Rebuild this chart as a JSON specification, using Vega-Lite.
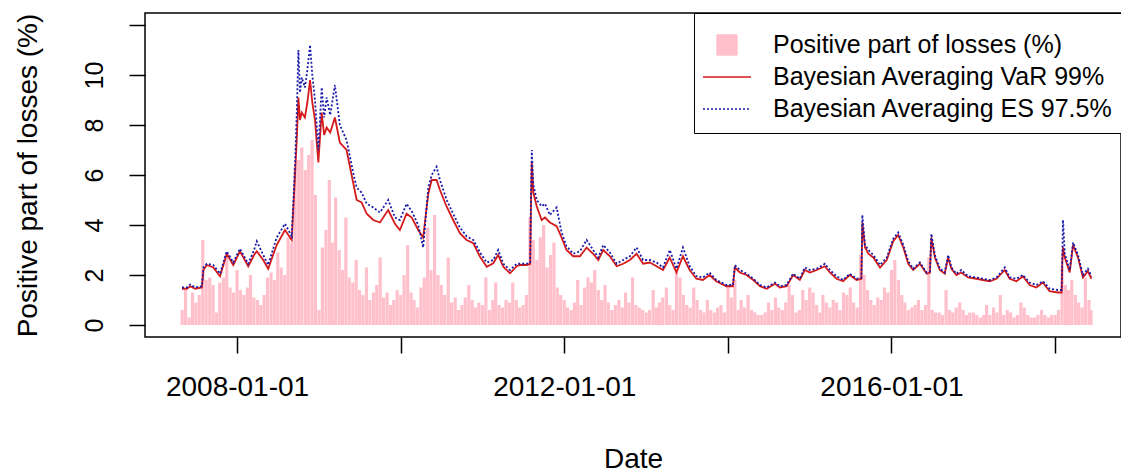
{
  "$schema": "https://vega.github.io/schema/vega-lite/v6.json",
  "width": 976,
  "height": 324,
  "autosize": "none",
  "padding": {"left": 145, "top": 13, "right": 0, "bottom": 135},
  "background": "white",
  "config": {
    "view": {"stroke": "black", "strokeWidth": 1.5},
    "font": "Liberation Sans",
    "axis": {"grid": false, "domain": false, "tickColor": "black", "tickWidth": 1.5, "labelColor": "black", "titleColor": "black", "labelFont": "Liberation Sans", "titleFont": "Liberation Sans", "titleFontWeight": "normal"}
  },
  "datasets": {
    "loss": [
      {"date":"2007-05-01","loss":0.6},{"date":"2007-05-16","loss":1.4},{"date":"2007-06-01","loss":0.3},{"date":"2007-06-16","loss":1.3},{"date":"2007-07-01","loss":0.9},{"date":"2007-07-16","loss":1.2},{"date":"2007-08-01","loss":3.4},{"date":"2007-08-16","loss":1.8},{"date":"2007-09-01","loss":1.9},{"date":"2007-09-16","loss":1.6},{"date":"2007-10-01","loss":0.5},{"date":"2007-10-16","loss":1.7},{"date":"2007-11-01","loss":1.9},{"date":"2007-11-16","loss":2.8},{"date":"2007-12-01","loss":1.5},{"date":"2007-12-16","loss":1.3},
      {"date":"2008-01-01","loss":2.2},{"date":"2008-01-16","loss":1.4},{"date":"2008-02-01","loss":1.2},{"date":"2008-02-16","loss":1.5},{"date":"2008-03-01","loss":2.0},{"date":"2008-03-16","loss":1.1},{"date":"2008-04-01","loss":1.0},{"date":"2008-04-16","loss":0.8},{"date":"2008-05-01","loss":1.2},{"date":"2008-05-16","loss":1.9},{"date":"2008-06-01","loss":2.1},{"date":"2008-06-16","loss":1.8},{"date":"2008-07-01","loss":2.9},{"date":"2008-07-16","loss":2.3},{"date":"2008-08-01","loss":2.0},{"date":"2008-08-16","loss":3.5},{"date":"2008-09-01","loss":3.3},{"date":"2008-09-16","loss":6.3},{"date":"2008-10-01","loss":6.6},{"date":"2008-10-16","loss":7.1},{"date":"2008-11-01","loss":6.2},{"date":"2008-11-16","loss":6.8},{"date":"2008-12-01","loss":7.4},{"date":"2008-12-16","loss":5.2},
      {"date":"2009-01-01","loss":0.6},{"date":"2009-01-16","loss":3.1},{"date":"2009-02-01","loss":3.8},{"date":"2009-02-16","loss":5.8},{"date":"2009-03-01","loss":3.3},{"date":"2009-03-16","loss":5.1},{"date":"2009-04-01","loss":3.0},{"date":"2009-04-16","loss":2.2},{"date":"2009-05-01","loss":4.3},{"date":"2009-05-16","loss":1.9},{"date":"2009-06-01","loss":1.7},{"date":"2009-06-16","loss":2.6},{"date":"2009-07-01","loss":1.4},{"date":"2009-07-16","loss":1.2},{"date":"2009-08-01","loss":2.3},{"date":"2009-08-16","loss":1.0},{"date":"2009-09-01","loss":1.3},{"date":"2009-09-16","loss":1.6},{"date":"2009-10-01","loss":2.7},{"date":"2009-10-16","loss":1.1},{"date":"2009-11-01","loss":1.3},{"date":"2009-11-16","loss":0.8},{"date":"2009-12-01","loss":1.0},{"date":"2009-12-16","loss":1.4},
      {"date":"2010-01-01","loss":1.2},{"date":"2010-01-16","loss":2.0},{"date":"2010-02-01","loss":3.2},{"date":"2010-02-16","loss":1.3},{"date":"2010-03-01","loss":1.0},{"date":"2010-03-16","loss":0.7},{"date":"2010-04-01","loss":1.5},{"date":"2010-04-16","loss":1.9},{"date":"2010-05-01","loss":3.9},{"date":"2010-05-16","loss":2.2},{"date":"2010-06-01","loss":4.4},{"date":"2010-06-16","loss":2.0},{"date":"2010-07-01","loss":1.6},{"date":"2010-07-16","loss":1.2},{"date":"2010-08-01","loss":2.7},{"date":"2010-08-16","loss":0.9},{"date":"2010-09-01","loss":1.1},{"date":"2010-09-16","loss":0.6},{"date":"2010-10-01","loss":0.8},{"date":"2010-10-16","loss":1.1},{"date":"2010-11-01","loss":1.6},{"date":"2010-11-16","loss":1.0},{"date":"2010-12-01","loss":0.7},{"date":"2010-12-16","loss":0.9},
      {"date":"2011-01-01","loss":0.8},{"date":"2011-01-16","loss":1.9},{"date":"2011-02-01","loss":0.6},{"date":"2011-02-16","loss":1.0},{"date":"2011-03-01","loss":1.7},{"date":"2011-03-16","loss":0.8},{"date":"2011-04-01","loss":0.7},{"date":"2011-04-16","loss":1.0},{"date":"2011-05-01","loss":0.9},{"date":"2011-05-16","loss":1.7},{"date":"2011-06-01","loss":1.0},{"date":"2011-06-16","loss":0.7},{"date":"2011-07-01","loss":0.8},{"date":"2011-07-16","loss":1.2},{"date":"2011-08-01","loss":4.3},{"date":"2011-08-16","loss":3.4},{"date":"2011-09-01","loss":2.6},{"date":"2011-09-16","loss":3.5},{"date":"2011-10-01","loss":4.0},{"date":"2011-10-16","loss":2.3},{"date":"2011-11-01","loss":2.8},{"date":"2011-11-16","loss":3.3},{"date":"2011-12-01","loss":1.5},{"date":"2011-12-16","loss":1.2},
      {"date":"2012-01-01","loss":1.0},{"date":"2012-01-16","loss":0.7},{"date":"2012-02-01","loss":0.6},{"date":"2012-02-16","loss":0.9},{"date":"2012-03-01","loss":1.8},{"date":"2012-03-16","loss":0.8},{"date":"2012-04-01","loss":1.5},{"date":"2012-04-16","loss":1.9},{"date":"2012-05-01","loss":1.7},{"date":"2012-05-16","loss":2.2},{"date":"2012-06-01","loss":1.4},{"date":"2012-06-16","loss":1.0},{"date":"2012-07-01","loss":1.6},{"date":"2012-07-16","loss":0.9},{"date":"2012-08-01","loss":0.6},{"date":"2012-08-16","loss":0.8},{"date":"2012-09-01","loss":1.0},{"date":"2012-09-16","loss":0.7},{"date":"2012-10-01","loss":1.3},{"date":"2012-10-16","loss":0.9},{"date":"2012-11-01","loss":1.9},{"date":"2012-11-16","loss":0.8},{"date":"2012-12-01","loss":0.7},{"date":"2012-12-16","loss":0.6},
      {"date":"2013-01-01","loss":0.5},{"date":"2013-01-16","loss":0.6},{"date":"2013-02-01","loss":1.4},{"date":"2013-02-16","loss":0.7},{"date":"2013-03-01","loss":0.9},{"date":"2013-03-16","loss":1.1},{"date":"2013-04-01","loss":1.5},{"date":"2013-04-16","loss":0.8},{"date":"2013-05-01","loss":0.6},{"date":"2013-05-16","loss":2.3},{"date":"2013-06-01","loss":1.9},{"date":"2013-06-16","loss":1.2},{"date":"2013-07-01","loss":0.8},{"date":"2013-07-16","loss":0.7},{"date":"2013-08-01","loss":1.5},{"date":"2013-08-16","loss":1.0},{"date":"2013-09-01","loss":0.6},{"date":"2013-09-16","loss":0.5},{"date":"2013-10-01","loss":1.0},{"date":"2013-10-16","loss":0.6},{"date":"2013-11-01","loss":0.5},{"date":"2013-11-16","loss":0.7},{"date":"2013-12-01","loss":0.8},{"date":"2013-12-16","loss":0.5},
      {"date":"2014-01-01","loss":1.6},{"date":"2014-01-16","loss":1.1},{"date":"2014-02-01","loss":1.8},{"date":"2014-02-16","loss":0.6},{"date":"2014-03-01","loss":1.0},{"date":"2014-03-16","loss":0.7},{"date":"2014-04-01","loss":1.2},{"date":"2014-04-16","loss":0.6},{"date":"2014-05-01","loss":0.5},{"date":"2014-05-16","loss":0.4},{"date":"2014-06-01","loss":0.4},{"date":"2014-06-16","loss":0.5},{"date":"2014-07-01","loss":0.9},{"date":"2014-07-16","loss":0.6},{"date":"2014-08-01","loss":1.1},{"date":"2014-08-16","loss":0.7},{"date":"2014-09-01","loss":0.6},{"date":"2014-09-16","loss":0.9},{"date":"2014-10-01","loss":1.6},{"date":"2014-10-16","loss":1.2},{"date":"2014-11-01","loss":0.5},{"date":"2014-11-16","loss":0.6},{"date":"2014-12-01","loss":1.4},{"date":"2014-12-16","loss":1.0},
      {"date":"2015-01-01","loss":1.5},{"date":"2015-01-16","loss":1.3},{"date":"2015-02-01","loss":0.8},{"date":"2015-02-16","loss":0.5},{"date":"2015-03-01","loss":1.2},{"date":"2015-03-16","loss":0.9},{"date":"2015-04-01","loss":0.7},{"date":"2015-04-16","loss":1.0},{"date":"2015-05-01","loss":0.9},{"date":"2015-05-16","loss":0.6},{"date":"2015-06-01","loss":1.3},{"date":"2015-06-16","loss":1.2},{"date":"2015-07-01","loss":1.5},{"date":"2015-07-16","loss":0.9},{"date":"2015-08-01","loss":0.7},{"date":"2015-08-16","loss":2.8},{"date":"2015-09-01","loss":2.0},{"date":"2015-09-16","loss":1.4},{"date":"2015-10-01","loss":1.0},{"date":"2015-10-16","loss":0.8},{"date":"2015-11-01","loss":1.1},{"date":"2015-11-16","loss":1.0},{"date":"2015-12-01","loss":1.5},{"date":"2015-12-16","loss":1.3},
      {"date":"2016-01-01","loss":2.2},{"date":"2016-01-16","loss":2.6},{"date":"2016-02-01","loss":1.8},{"date":"2016-02-16","loss":1.2},{"date":"2016-03-01","loss":0.9},{"date":"2016-03-16","loss":0.6},{"date":"2016-04-01","loss":0.7},{"date":"2016-04-16","loss":0.8},{"date":"2016-05-01","loss":1.0},{"date":"2016-05-16","loss":0.6},{"date":"2016-06-01","loss":0.8},{"date":"2016-06-16","loss":2.7},{"date":"2016-07-01","loss":0.6},{"date":"2016-07-16","loss":0.5},{"date":"2016-08-01","loss":0.5},{"date":"2016-08-16","loss":0.4},{"date":"2016-09-01","loss":1.4},{"date":"2016-09-16","loss":0.6},{"date":"2016-10-01","loss":0.5},{"date":"2016-10-16","loss":0.7},{"date":"2016-11-01","loss":0.9},{"date":"2016-11-16","loss":0.6},{"date":"2016-12-01","loss":0.4},{"date":"2016-12-16","loss":0.5},
      {"date":"2017-01-01","loss":0.5},{"date":"2017-01-16","loss":0.4},{"date":"2017-02-01","loss":0.3},{"date":"2017-02-16","loss":0.4},{"date":"2017-03-01","loss":0.8},{"date":"2017-03-16","loss":0.4},{"date":"2017-04-01","loss":0.7},{"date":"2017-04-16","loss":0.5},{"date":"2017-05-01","loss":1.2},{"date":"2017-05-16","loss":0.4},{"date":"2017-06-01","loss":0.6},{"date":"2017-06-16","loss":0.5},{"date":"2017-07-01","loss":0.3},{"date":"2017-07-16","loss":0.4},{"date":"2017-08-01","loss":0.9},{"date":"2017-08-16","loss":0.7},{"date":"2017-09-01","loss":0.4},{"date":"2017-09-16","loss":0.3},{"date":"2017-10-01","loss":0.3},{"date":"2017-10-16","loss":0.4},{"date":"2017-11-01","loss":0.6},{"date":"2017-11-16","loss":0.4},{"date":"2017-12-01","loss":0.3},{"date":"2017-12-16","loss":0.4},
      {"date":"2018-01-01","loss":0.4},{"date":"2018-01-16","loss":0.6},{"date":"2018-02-01","loss":2.3},{"date":"2018-02-16","loss":1.6},{"date":"2018-03-01","loss":1.4},{"date":"2018-03-16","loss":1.8},{"date":"2018-04-01","loss":1.2},{"date":"2018-04-16","loss":0.9},{"date":"2018-05-01","loss":0.7},{"date":"2018-05-16","loss":1.9},{"date":"2018-06-01","loss":1.0},{"date":"2018-06-10","loss":0.6}
    ],
    "risk": [
      {"date":"2007-04-30","var":1.45,"es":1.5},{"date":"2007-05-22","var":1.45,"es":1.5},{"date":"2007-06-06","var":1.55,"es":1.62},{"date":"2007-06-28","var":1.45,"es":1.5},{"date":"2007-07-28","var":1.5,"es":1.55},{"date":"2007-08-04","var":2.2,"es":2.3},{"date":"2007-08-19","var":2.4,"es":2.45},{"date":"2007-09-17","var":2.3,"es":2.4},{"date":"2007-10-17","var":1.95,"es":2.05},{"date":"2007-11-16","var":2.85,"es":2.95},{"date":"2007-12-15","var":2.4,"es":2.5},
      {"date":"2008-01-14","var":2.95,"es":3.05},{"date":"2008-02-20","var":2.35,"es":2.45},{"date":"2008-03-17","var":2.8,"es":3.0},{"date":"2008-03-29","var":2.95,"es":3.35},{"date":"2008-04-27","var":2.6,"es":2.8},{"date":"2008-05-19","var":2.25,"es":2.4},{"date":"2008-06-26","var":3.2,"es":3.5},{"date":"2008-08-02","var":3.8,"es":4.05},{"date":"2008-09-01","var":3.4,"es":3.55},{"date":"2008-09-16","var":6.0,"es":6.4},{"date":"2008-09-24","var":7.5,"es":8.6},{"date":"2008-10-01","var":9.1,"es":11.0},{"date":"2008-10-08","var":8.2,"es":9.3},{"date":"2008-10-16","var":8.5,"es":9.9},{"date":"2008-10-30","var":8.3,"es":9.5},{"date":"2008-11-10","var":8.9,"es":10.2},{"date":"2008-11-22","var":9.8,"es":11.2},{"date":"2008-12-02","var":8.9,"es":10.0},{"date":"2008-12-14","var":8.2,"es":9.0},{"date":"2008-12-29","var":6.5,"es":7.0},
      {"date":"2009-01-13","var":8.5,"es":9.5},{"date":"2009-01-24","var":7.6,"es":8.3},{"date":"2009-02-04","var":7.9,"es":9.1},{"date":"2009-02-20","var":7.7,"es":8.4},{"date":"2009-03-13","var":8.3,"es":9.6},{"date":"2009-04-04","var":7.3,"es":8.0},{"date":"2009-05-04","var":7.0,"es":7.4},{"date":"2009-06-03","var":5.67,"es":6.07},{"date":"2009-06-18","var":5.0,"es":5.5},{"date":"2009-07-10","var":4.9,"es":5.3},{"date":"2009-08-02","var":4.45,"es":4.85},{"date":"2009-08-31","var":4.2,"es":4.7},{"date":"2009-09-30","var":4.1,"es":4.5},{"date":"2009-11-06","var":4.6,"es":5.0},{"date":"2009-12-06","var":4.05,"es":4.3},{"date":"2009-12-28","var":3.8,"es":4.2},
      {"date":"2010-01-27","var":4.45,"es":4.85},{"date":"2010-02-19","var":4.3,"es":4.55},{"date":"2010-03-20","var":3.8,"es":4.0},{"date":"2010-04-11","var":3.5,"es":3.1},{"date":"2010-05-04","var":5.25,"es":5.5},{"date":"2010-05-19","var":5.8,"es":6.0},{"date":"2010-06-10","var":5.8,"es":6.33},{"date":"2010-06-25","var":5.4,"es":5.8},{"date":"2010-07-25","var":4.73,"es":5.0},{"date":"2010-08-23","var":4.2,"es":4.45},{"date":"2010-09-22","var":3.67,"es":3.9},{"date":"2010-10-22","var":3.4,"es":3.55},{"date":"2010-11-21","var":3.27,"es":3.4},{"date":"2010-12-21","var":2.73,"es":2.9},
      {"date":"2011-01-20","var":2.33,"es":2.5},{"date":"2011-02-18","var":2.47,"es":2.6},{"date":"2011-03-12","var":2.8,"es":3.0},{"date":"2011-04-04","var":2.33,"es":2.45},{"date":"2011-05-04","var":2.07,"es":2.2},{"date":"2011-06-03","var":2.35,"es":2.45},{"date":"2011-06-17","var":2.4,"es":2.45},{"date":"2011-07-17","var":2.4,"es":2.45},{"date":"2011-08-02","var":2.45,"es":2.5},{"date":"2011-08-05","var":4.5,"es":4.8},{"date":"2011-08-09","var":6.5,"es":7.0},{"date":"2011-08-16","var":5.3,"es":5.6},{"date":"2011-08-31","var":4.75,"es":5.0},{"date":"2011-09-22","var":4.2,"es":4.75},{"date":"2011-10-07","var":4.3,"es":4.85},{"date":"2011-10-29","var":4.1,"es":4.4},{"date":"2011-11-28","var":3.95,"es":4.7},{"date":"2011-12-20","var":3.5,"es":3.7},
      {"date":"2012-01-11","var":3.0,"es":3.15},{"date":"2012-02-10","var":2.75,"es":2.85},{"date":"2012-03-11","var":2.75,"es":2.95},{"date":"2012-04-10","var":3.1,"es":3.4},{"date":"2012-05-09","var":2.85,"es":3.0},{"date":"2012-06-01","var":2.6,"es":2.7},{"date":"2012-06-23","var":3.0,"es":3.2},{"date":"2012-07-23","var":2.75,"es":2.9},{"date":"2012-08-22","var":2.35,"es":2.45},{"date":"2012-09-20","var":2.45,"es":2.6},{"date":"2012-10-20","var":2.6,"es":2.75},{"date":"2012-11-19","var":2.85,"es":3.1},{"date":"2012-12-18","var":2.45,"es":2.6},
      {"date":"2013-01-17","var":2.5,"es":2.6},{"date":"2013-02-16","var":2.35,"es":2.5},{"date":"2013-03-17","var":2.2,"es":2.3},{"date":"2013-04-16","var":2.7,"es":3.0},{"date":"2013-05-16","var":2.1,"es":2.25},{"date":"2013-06-14","var":2.75,"es":3.1},{"date":"2013-07-14","var":2.2,"es":2.35},{"date":"2013-08-13","var":1.85,"es":1.95},{"date":"2013-09-11","var":1.8,"es":1.9},{"date":"2013-10-11","var":2.0,"es":2.1},{"date":"2013-11-10","var":1.75,"es":1.8},{"date":"2013-12-25","var":1.55,"es":1.6},
      {"date":"2014-01-23","var":1.55,"es":1.6},{"date":"2014-02-01","var":2.3,"es":2.4},{"date":"2014-02-23","var":2.1,"es":2.2},{"date":"2014-03-25","var":2.0,"es":2.05},{"date":"2014-04-24","var":1.8,"es":1.85},{"date":"2014-05-24","var":1.55,"es":1.6},{"date":"2014-06-23","var":1.45,"es":1.5},{"date":"2014-07-30","var":1.65,"es":1.7},{"date":"2014-08-21","var":1.5,"es":1.55},{"date":"2014-09-20","var":1.55,"es":1.6},{"date":"2014-10-19","var":2.0,"es":2.05},{"date":"2014-11-18","var":1.8,"es":1.85},{"date":"2014-12-10","var":2.2,"es":2.3},
      {"date":"2015-01-02","var":2.1,"es":2.2},{"date":"2015-02-01","var":2.2,"es":2.25},{"date":"2015-03-10","var":2.35,"es":2.45},{"date":"2015-04-01","var":2.1,"es":2.2},{"date":"2015-05-01","var":1.85,"es":1.95},{"date":"2015-05-30","var":1.75,"es":1.8},{"date":"2015-06-29","var":2.0,"es":2.05},{"date":"2015-07-29","var":1.8,"es":1.85},{"date":"2015-08-20","var":1.85,"es":1.9},{"date":"2015-08-24","var":4.1,"es":4.4},{"date":"2015-09-05","var":3.1,"es":3.2},{"date":"2015-09-20","var":2.85,"es":3.0},{"date":"2015-10-12","var":2.7,"es":2.8},{"date":"2015-11-11","var":2.3,"es":2.4},{"date":"2015-12-11","var":2.6,"es":2.7},
      {"date":"2016-01-09","var":3.35,"es":3.45},{"date":"2016-01-31","var":3.6,"es":3.7},{"date":"2016-02-23","var":3.1,"es":3.2},{"date":"2016-03-16","var":2.45,"es":2.55},{"date":"2016-04-07","var":2.2,"es":2.25},{"date":"2016-05-07","var":2.45,"es":2.5},{"date":"2016-06-06","var":2.05,"es":2.1},{"date":"2016-06-21","var":2.1,"es":2.15},{"date":"2016-06-27","var":3.5,"es":3.65},{"date":"2016-07-13","var":2.7,"es":2.8},{"date":"2016-08-04","var":2.2,"es":2.25},{"date":"2016-08-26","var":2.05,"es":2.1},{"date":"2016-09-10","var":2.7,"es":2.8},{"date":"2016-09-25","var":2.25,"es":2.3},{"date":"2016-10-17","var":2.0,"es":2.05},{"date":"2016-11-08","var":2.1,"es":2.2},{"date":"2016-12-08","var":1.9,"es":1.95},
      {"date":"2017-01-14","var":1.85,"es":1.9},{"date":"2017-02-13","var":1.8,"es":1.85},{"date":"2017-03-15","var":1.75,"es":1.8},{"date":"2017-04-14","var":1.85,"es":1.9},{"date":"2017-05-21","var":2.2,"es":2.3},{"date":"2017-06-12","var":1.85,"es":1.9},{"date":"2017-07-12","var":1.75,"es":1.85},{"date":"2017-08-10","var":1.95,"es":2.0},{"date":"2017-09-09","var":1.6,"es":1.7},{"date":"2017-10-09","var":1.5,"es":1.6},{"date":"2017-11-07","var":1.7,"es":1.75},{"date":"2017-12-07","var":1.35,"es":1.45},
      {"date":"2018-01-13","var":1.3,"es":1.4},{"date":"2018-01-30","var":1.3,"es":1.4},{"date":"2018-02-02","var":2.5,"es":2.8},{"date":"2018-02-05","var":3.1,"es":4.2},{"date":"2018-02-13","var":2.7,"es":2.85},{"date":"2018-03-07","var":2.1,"es":2.2},{"date":"2018-03-22","var":3.2,"es":3.3},{"date":"2018-04-13","var":2.7,"es":2.8},{"date":"2018-05-05","var":1.9,"es":2.0},{"date":"2018-05-27","var":2.15,"es":2.25},{"date":"2018-06-12","var":1.85,"es":1.95}
    ]
  },
  "layer": [
    {
      "data": {"name": "loss"},
      "mark": {"type": "rule", "strokeWidth": 3.2},
      "encoding": {
        "x": {
          "field": "date", "type": "temporal", "title": "Date",
          "scale": {"type": "utc", "domain": [{"year": 2006, "month": 11, "date": 16, "utc": true}, {"year": 2018, "month": 10, "date": 22, "utc": true}]},
          "axis": {
            "values": [{"year": 2008, "month": 1, "date": 1, "utc": true}, {"year": 2010, "month": 1, "date": 1, "utc": true}, {"year": 2012, "month": 1, "date": 1, "utc": true}, {"year": 2014, "month": 1, "date": 1, "utc": true}, {"year": 2016, "month": 1, "date": 1, "utc": true}, {"year": 2018, "month": 1, "date": 1, "utc": true}],
            "labelExpr": "utcyear(datum.value) % 4 == 0 ? utcFormat(datum.value, '%Y-%m-%d') : ''",
            "tickSize": 16, "labelPadding": 20, "labelFontSize": 28, "titleFontSize": 28, "titlePadding": 44, "labelFlush": false, "labelOverlap": false
          }
        },
        "y": {
          "field": "loss", "type": "quantitative", "title": "Positive part of losses (%)",
          "scale": {"domain": [-0.48, 12.48], "nice": false, "zero": false},
          "axis": {
            "values": [0, 2, 4, 6, 8, 10, 12],
            "labelExpr": "datum.value == 12 ? '' : datum.label",
            "labelAngle": 270, "labelAlign": "center", "labelBaseline": "bottom",
            "tickSize": 16, "labelPadding": 22, "labelFontSize": 25, "titleFontSize": 28, "titlePadding": 40
          }
        },
        "y2": {"datum": 0},
        "color": {
          "datum": "Positive part of losses (%)",
          "scale": {"domain": ["Positive part of losses (%)", "Bayesian Averaging VaR 99%", "Bayesian Averaging ES 97.5%"], "range": ["#FFC0CB", "#D41A1A", "#1A1AA8"]},
          "legend": {
            "orient": "none", "legendX": 549, "legendY": 0,
            "title": " ", "titleFontSize": 1, "titlePadding": 7,
            "strokeColor": "black", "fillColor": "white", "padding": 8,
            "symbolType": "stroke", "symbolSize": 2304, "symbolStrokeWidth": 1.5,
            "clipHeight": 32, "rowPadding": 0,
            "labelFontSize": 25, "labelFont": "Liberation Sans", "labelColor": "black", "labelOffset": 21, "labelLimit": 0,
            "encode": {
              "symbols": {
                "update": {
                  "shape": {"signal": "datum.value === 'Positive part of losses (%)' ? 'square' : 'stroke'"},
                  "size": {"signal": "datum.value === 'Positive part of losses (%)' ? 400 : 2304"},
                  "fill": {"signal": "datum.value === 'Positive part of losses (%)' ? '#FFC0CB' : 'transparent'"},
                  "stroke": {"signal": "datum.value === 'Positive part of losses (%)' ? 'transparent' : (datum.value === 'Bayesian Averaging VaR 99%' ? '#B22222' : '#1A1A9C')"},
                  "strokeDash": {"signal": "datum.value === 'Bayesian Averaging ES 97.5%' ? [2, 2] : [1, 0]"},
                  "strokeWidth": {"value": 1.5},
                  "opacity": {"value": 1}
                }
              }
            }
          }
        }
      }
    },
    {
      "data": {"name": "risk"},
      "mark": {"type": "line", "strokeWidth": 1.8},
      "encoding": {
        "x": {"field": "date", "type": "temporal", "title": "Date"},
        "y": {"field": "var", "type": "quantitative", "title": "Positive part of losses (%)"},
        "color": {"datum": "Bayesian Averaging VaR 99%"}
      }
    },
    {
      "data": {"name": "risk"},
      "mark": {"type": "line", "strokeWidth": 1.8, "strokeDash": [2, 2]},
      "encoding": {
        "x": {"field": "date", "type": "temporal", "title": "Date"},
        "y": {"field": "es", "type": "quantitative", "title": "Positive part of losses (%)"},
        "color": {"datum": "Bayesian Averaging ES 97.5%"}
      }
    }
  ]
}
